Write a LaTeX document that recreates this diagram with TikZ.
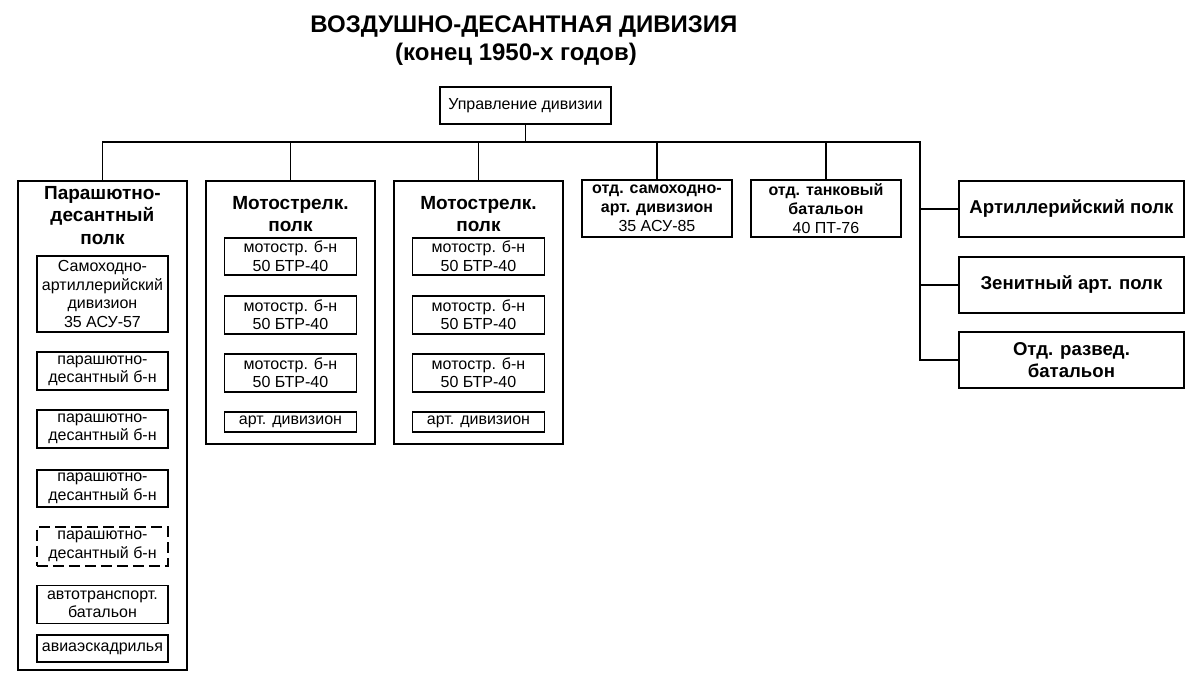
\documentclass[tikz,border=0pt]{standalone}
\usepackage{fontspec}
\setmainfont{Liberation Sans}
\usetikzlibrary{positioning}

\begin{document}
\begin{tikzpicture}[x=1pt,y=-1pt,line width=1.9pt,
  regt/.style={rectangle,draw,minimum width=169pt,anchor=north west,inner sep=0pt},
  rtitle/.style={font=\fontsize{19}{22.5}\selectfont\bfseries,align=center,inner sep=0pt},
  unit/.style={rectangle,draw,font=\fontsize{16}{18.5}\selectfont,align=center,inner sep=0pt,minimum width=131pt},
  sep unit/.style={rectangle,draw,anchor=north west,font=\fontsize{16}{19}\selectfont,align=center,inner sep=0pt,minimum width=150pt,minimum height=57pt},
  big unit/.style={rectangle,draw,anchor=north west,font=\fontsize{18.6}{22}\selectfont\bfseries,align=center,inner sep=0pt,minimum width=225pt,minimum height=56pt},
  ttl/.style={font=\fontsize{24}{28}\selectfont\bfseries,anchor=base,inner sep=0pt}]
  \fill[white] (0,0) rectangle (1200,689);
  \useasboundingbox (0,0) rectangle (1200,689);

  % title
  \node[ttl] (T1) at (524,32) {ВОЗДУШНО-ДЕСАНТНАЯ ДИВИЗИЯ};
  \node[ttl] (T2) at (516,60) {(конец 1950-х годов)};
  \node[rectangle,draw,anchor=north west,font=\fontsize{16}{18}\selectfont,inner sep=0pt,
    minimum width=171pt,minimum height=37pt] (UD) at (439,86) {Управление дивизии};

  % parachute regiment
  \node[regt,minimum height=489pt] (PDP) at (17,180) {};
  \node[rtitle,below=5pt of PDP.north] (PDPt) {Парашютно-\\десантный\\полк};
  \node[unit,minimum height=76pt,below=75pt of PDP.north] (PDP1) {Самоходно-\\артиллерийский\\дивизион\\35 АСУ-57};
  \node[unit,minimum height=38pt,below=18pt of PDP1] (PDP2) {парашютно-\\десантный б-н};
  \node[unit,minimum height=38pt,below=18pt of PDP2] (PDP3) {парашютно-\\десантный б-н};
  \node[unit,minimum height=37pt,below=20pt of PDP3] (PDP4) {парашютно-\\десантный б-н};
  \node[unit,minimum height=39pt,below=18pt of PDP4,dash pattern=on 11pt off 5pt] (PDP5) {парашютно-\\десантный б-н};
  \node[unit,minimum height=38pt,below=18pt of PDP5] (PDP6) {автотранспорт.\\батальон};
  \node[unit,minimum height=27pt,below=10pt of PDP6] (PDP7) {авиаэскадрилья};

  % motor rifle regiments
  \foreach \i/\x in {1/205,2/393}{
    \node[regt,minimum height=263pt] (MSP\i) at (\x,180) {};
    \node[rtitle,below=15pt of MSP\i.north] (MSP\i t) {Мотострелк.\\полк};
    \node[unit,minimum width=132pt,minimum height=37pt,below=57pt of MSP\i.north] (MSP\i1) {мотостр. б-н\\50 БТР-40};
    \node[unit,minimum width=132pt,minimum height=38pt,below=19pt of MSP\i1] (MSP\i2) {мотостр. б-н\\50 БТР-40};
    \node[unit,minimum width=132pt,minimum height=38pt,below=18pt of MSP\i2] (MSP\i3) {мотостр. б-н\\50 БТР-40};
    \node[unit,minimum width=132pt,minimum height=20pt,below=18pt of MSP\i3] (MSP\i4) {арт. дивизион};
  }

  % separate units
  \node[sep unit] (SAD) at (581,179) {\textbf{отд. самоходно-}\\\textbf{арт. дивизион}\\35 АСУ-85};
  \node[sep unit] (OTB) at (750,179) {\textbf{отд. танковый}\\\textbf{батальон}\\40 ПТ-76};
  \node[big unit] (AP) at (958,180) {Артиллерийский полк};
  \node[big unit] (ZAP) at (958,256) {Зенитный арт. полк};
  \node[big unit] (ORB) at (958,331) {Отд. развед.\\батальон};

  % links
  \coordinate (BR) at (920,142);
  \draw (UD.south) -- (UD.south |- BR);
  \draw (PDP.north) |- (BR) |- (ORB.west);
  \foreach \n in {MSP1,MSP2,SAD,OTB}
    \draw (\n.north |- BR) -- (\n.north);
  \foreach \n in {AP,ZAP}
    \draw (BR |- \n.west) -- (\n.west);
\end{tikzpicture}
\end{document}
